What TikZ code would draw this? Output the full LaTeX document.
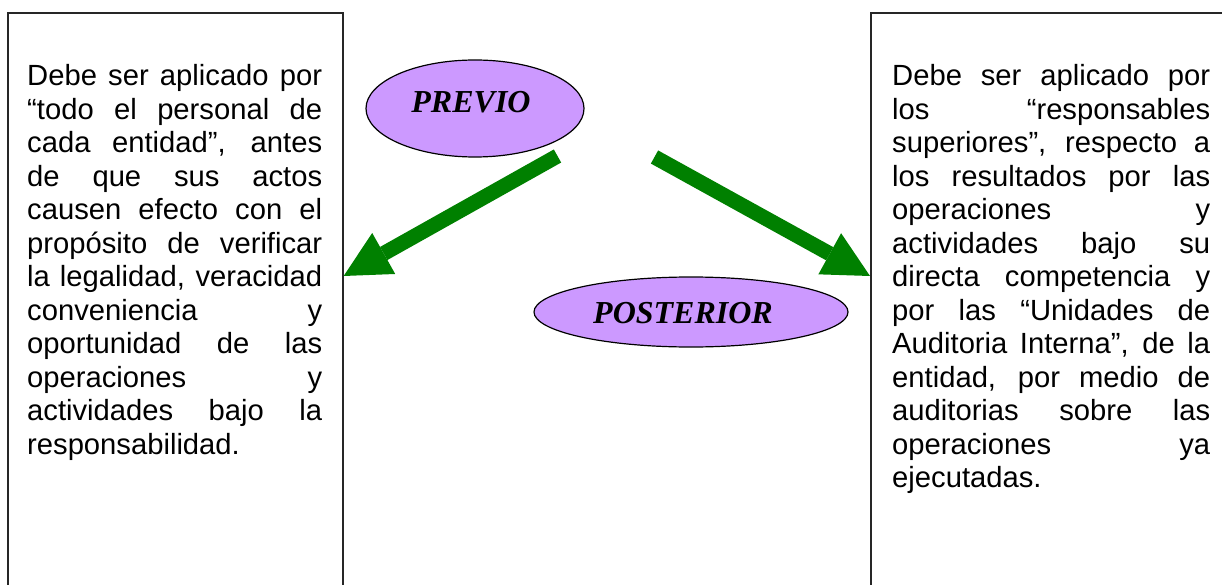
\documentclass[tikz,border=0pt]{standalone}
\usepackage{fontspec}
\setmainfont{Liberation Sans}
\newfontfamily\tagfont{Liberation Serif}
\usetikzlibrary{arrows.meta,shapes.geometric}
\definecolor{lilac}{RGB}{204,153,255}
\definecolor{arrowgreen}{RGB}{0,128,0}
% one justified line of a box text: spaces stretch to fill the width
\newcommand\jl[1]{{\spaceskip=0.278em plus 1fil\makebox[\linewidth][s]{#1}}\par}
\begin{document}
\begin{tikzpicture}[x=1pt,y=-1pt,
  frame/.style={draw=black!85, line width=1.6pt, rectangle, inner sep=0pt, anchor=north west},
  bodytext/.style={anchor=base west, inner sep=0pt,
    font=\fontsize{29.2pt}{33.5pt}\selectfont},
  tag/.style={ellipse, draw=black, line width=1.2pt, fill=lilac, inner sep=0pt},
  tagtext/.style={inner sep=0pt, font=\tagfont\bfseries\itshape\fontsize{32pt}{36pt}\selectfont},
  flow/.style={draw=arrowgreen, line width=15pt,
    -{Triangle[width=47pt,length=46pt,line width=0pt]}}
]
\useasboundingbox (0,0) rectangle (1222,585);
\clip (0,0) rectangle (1222,585);

% the two tall frames, running off the bottom
\node[frame, minimum width=335pt, minimum height=600pt] (leftbox) at (7,12) {};
\node[frame, minimum width=380pt, minimum height=600pt] (rightbox) at (870,12) {};

\node[bodytext, text width=295pt] (lefttext) at (27,86) {%
\jl{Debe ser aplicado por}
\jl{“todo el personal de}
\jl{cada entidad”, antes}
\jl{de que sus actos}
\jl{causen efecto con el}
\jl{propósito de verificar}
\jl{la legalidad, veracidad}
\jl{conveniencia y}
\jl{oportunidad de las}
\jl{operaciones y}
\jl{actividades bajo la}
responsabilidad.};

\node[bodytext, text width=318pt] (righttext) at (892,86) {%
\jl{Debe ser aplicado por}
\jl{los “responsables}
\jl{superiores”, respecto a}
\jl{los resultados por las}
\jl{operaciones y}
\jl{actividades bajo su}
\jl{directa competencia y}
\jl{por las “Unidades de}
\jl{Auditoria Interna”, de la}
\jl{entidad, por medio de}
\jl{auditorias sobre las}
\jl{operaciones ya}
ejecutadas.};

% the two tags
\node[tag, minimum width=218pt, minimum height=97pt] (previo) at (475,108.5) {};
\node[tagtext] (previolabel) at ([shift={(-4,-6)}]previo.center) {PREVIO};
\node[tag, minimum width=314pt, minimum height=70pt] (posterior) at (691,312) {};
\node[tagtext] (posteriorlabel) at ([shift={(-8,1.5)}]posterior.center) {POSTERIOR};

% green arrows towards the frames
\coordinate (prevstart) at ([shift={(82.5,47.5)}]previo.center);
\coordinate (poststart) at ([shift={(179.5,48.5)}]previo.center);
\coordinate (lefttip) at ([yshift=-264pt]leftbox.north east);
\coordinate (righttip) at ([yshift=-264pt]rightbox.north west);
\draw[flow] (prevstart) -- (lefttip);
\draw[flow] (poststart) -- (righttip);
\end{tikzpicture}
\end{document}
